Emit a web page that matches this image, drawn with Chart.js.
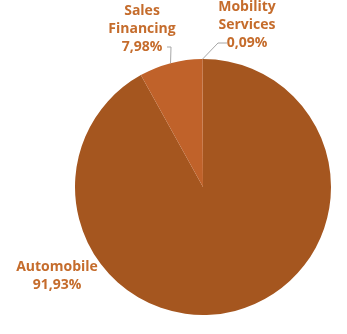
<!DOCTYPE html>
<html>
<head>
<meta charset="utf-8">
<script src="https://cdn.jsdelivr.net/npm/chart.js@4/dist/chart.umd.min.js"></script>
<style>
  html, body { margin: 0; padding: 0; background: #fff; }
  #wrap { width: 347px; height: 334px; }
</style>
</head>
<body>
<div id="wrap"><canvas id="c" width="347" height="334"></canvas></div>
<script>
const categories = ["Automobile", "Sales Financing", "Mobility Services"];
const shares = [91.93, 7.98, 0.09];
const sliceColors = ["#a5561f", "#c0622a", "#b85c26"];

// label placement (text lines + anchor), leader lines start at the slice edge
const labelSpots = [
  { lines: ["Automobile"], x: 57, y: 267, leader: null },
  { lines: ["Sales", "Financing"], x: 142, y: 11, leader: [[167, 47], [171, 47]] },
  { lines: ["Mobility", "Services"], x: 247, y: 7, leader: [[227, 43], [218, 43]] },
];

const fmt = v => v.toFixed(2).replace(".", ",") + "%";

const labelPlugin = {
  id: "sliceLabels",
  afterDatasetsDraw(chart) {
    const ctx = chart.ctx;
    const arcs = chart.getDatasetMeta(0).data;
    ctx.save();
    labelSpots.forEach((spot, i) => {
      const arc = arcs[i];
      if (spot.leader) {
        const mid = (arc.startAngle + arc.endAngle) / 2;
        const ex = arc.x + Math.cos(mid) * arc.outerRadius;
        const ey = arc.y + Math.sin(mid) * arc.outerRadius;
        ctx.strokeStyle = "#a6a6a6";
        ctx.lineWidth = 1;
        ctx.beginPath();
        ctx.moveTo(spot.leader[0][0], spot.leader[0][1]);
        ctx.lineTo(spot.leader[1][0], spot.leader[1][1]);
        ctx.lineTo(ex, ey);
        ctx.stroke();
      }
      ctx.fillStyle = "#c56c2c";
      ctx.font = "bold 14px 'Open Sans', Lato, sans-serif";
      ctx.textAlign = "center";
      ctx.textBaseline = "middle";
      const all = spot.lines.concat([fmt(shares[i])]);
      all.forEach((t, k) => ctx.fillText(t, spot.x, spot.y + k * 18));
    });
    ctx.restore();
  }
};

new Chart(document.getElementById("c"), {
  type: "pie",
  data: {
    labels: categories,
    datasets: [{
      data: shares,
      backgroundColor: sliceColors,
      borderWidth: 0,
    }]
  },
  options: {
    responsive: false,
    animation: false,
    layout: { padding: { left: 75, right: 16, top: 59, bottom: 19 } },
    plugins: { legend: { display: false }, tooltip: { enabled: false } },
  },
  plugins: [labelPlugin],
});
</script>
</body>
</html>
